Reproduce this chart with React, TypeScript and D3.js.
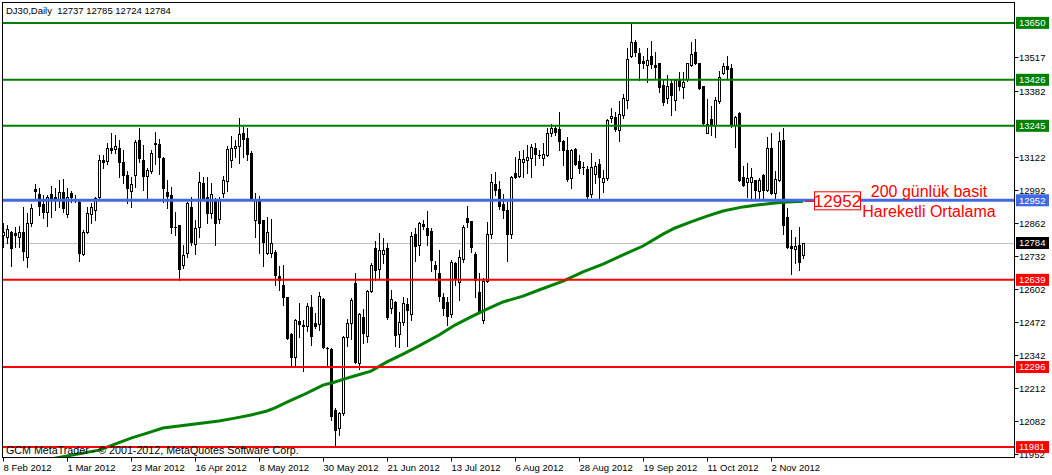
import { useEffect, useRef } from 'react';
import * as d3 from 'd3';

// daily OHLC, one entry per bar (bar 0 = 8 Feb 2012)
const openP = [
  12816, 12809, 12827, 12822, 12809, 12827, 12730, 12864, 12995, 12976,
  12938, 12905, 12976, 12963, 12953, 12984, 12897, 12980, 12957, 12946,
  12741, 12826, 12897, 12914, 12963, 13111, 13107, 13157, 13155, 13159,
  13104, 13052, 12990, 13052, 13190, 13111, 13049, 13069, 13179, 13174,
  13120, 12984, 12973, 12848, 12855, 12697, 12743, 12927, 12779, 12848,
  13019, 12964, 12901, 12956, 12877, 12980, 13029, 13111, 13159, 13166,
  13216, 13196, 13137, 12875, 12953, 12875, 12746, 12743, 12750, 12654,
  12619, 12570, 12426, 12337, 12477, 12461, 12459, 12533, 12468, 12465,
  12564, 12371, 12365, 12127, 12058, 12116, 12415, 12468, 12625, 12310,
  12494, 12419, 12595, 12763, 12680, 12741, 12763, 12527, 12553, 12426,
  12472, 12544, 12505, 12820, 12776, 12860, 12842, 12831, 12698, 12665,
  12570, 12551, 12503, 12704, 12632, 12720, 12881, 12871, 12741, 12590,
  12481, 12636, 12818, 13016, 12997, 12938, 12914, 12820, 13058, 13049,
  13104, 13111, 13117, 13157, 13131, 13117, 13130, 13216, 13238, 13231,
  13186, 13150, 13041, 13153, 13107, 13084, 13075, 12976, 13054, 13094,
  13023, 13039, 13275, 13279, 13229, 13288, 13347, 13518, 13574, 13531,
  13500, 13485, 13521, 13485, 13491, 13406, 13356, 13413, 13347, 13426,
  13399, 13428, 13485, 13537, 13491, 13402, 13218, 13271, 13249, 13344,
  13452, 13481, 13472, 13249, 13297, 13043, 13022, 13022, 13032, 12990,
  13050, 12993, 13157, 12980, 13032, 13189, 12885, 12772, 12759, 12776,
  12737,
];
const highP = [
  12862, 12855, 12831, 12848, 12851, 12925, 12901, 12938, 13016, 12999,
  12973, 12973, 13008, 13002, 13032, 13035, 12999, 12990, 12973, 12951,
  12835, 12927, 12940, 12966, 13130, 13130, 13179, 13216, 13209, 13190,
  13150, 13067, 13045, 13190, 13235, 13170, 13078, 13150, 13220, 13192,
  13124, 13032, 13003, 12907, 12855, 12776, 12947, 12966, 12875, 13065,
  13045, 13045, 13019, 12960, 12966, 13048, 13166, 13203, 13190, 13275,
  13242, 13235, 13144, 12982, 12970, 12875, 12888, 12877, 12756, 12694,
  12697, 12573, 12428, 12484, 12547, 12481, 12547, 12579, 12507, 12591,
  12566, 12376, 12369, 12133, 12120, 12418, 12484, 12566, 12667, 12510,
  12523, 12599, 12704, 12792, 12822, 12802, 12785, 12599, 12557, 12514,
  12573, 12566, 12829, 12842, 12868, 12875, 12908, 12842, 12715, 12757,
  12586, 12573, 12717, 12711, 12757, 12855, 12931, 12871, 12750, 12665,
  12645, 12868, 13054, 13062, 13026, 12976, 12947, 13049, 13124, 13144,
  13150, 13170, 13173, 13176, 13150, 13176, 13235, 13251, 13249, 13298,
  13189, 13200, 13154, 13157, 13130, 13104, 13085, 13137, 13104, 13113,
  13071, 13272, 13314, 13301, 13343, 13369, 13550, 13645, 13583, 13550,
  13518, 13550, 13579, 13537, 13491, 13426, 13443, 13426, 13428, 13458,
  13458, 13494, 13575, 13585, 13494, 13403, 13349, 13321, 13357, 13462,
  13491, 13520, 13489, 13284, 13301, 13087, 13098, 13078, 13032, 13039,
  13056, 13200, 13218, 13069, 13222, 13238, 12923, 12835, 12809, 12848,
  12785,
];
const lowP = [
  12770, 12783, 12695, 12770, 12770, 12717, 12691, 12851, 12953, 12894,
  12881, 12851, 12888, 12914, 12927, 12907, 12888, 12947, 12947, 12714,
  12737, 12822, 12862, 12875, 12953, 13078, 13095, 13137, 13137, 13045,
  13019, 12940, 12925, 13006, 13104, 12993, 12960, 13058, 13095, 13056,
  12947, 12921, 12822, 12816, 12638, 12684, 12730, 12776, 12741, 12809,
  12953, 12864, 12881, 12776, 12864, 12963, 12990, 13081, 13124, 13100,
  13124, 13111, 12953, 12809, 12746, 12695, 12741, 12730, 12619, 12599,
  12540, 12405, 12304, 12304, 12415, 12282, 12439, 12383, 12448, 12442,
  12369, 12304, 12087, 11982, 12028, 12107, 12380, 12405, 12310, 12287,
  12389, 12396, 12592, 12638, 12645, 12704, 12484, 12507, 12379, 12376,
  12461, 12380, 12481, 12715, 12737, 12838, 12776, 12675, 12639, 12556,
  12501, 12461, 12494, 12619, 12560, 12711, 12848, 12747, 12573, 12511,
  12468, 12632, 12805, 12973, 12918, 12881, 12715, 12805, 13039, 13045,
  13045, 13058, 13043, 13091, 13117, 13091, 13127, 13203, 13209, 13150,
  13091, 13029, 13002, 13091, 13058, 13056, 12960, 12963, 13019, 12960,
  12986, 13032, 13259, 13226, 13187, 13275, 13317, 13515, 13518, 13426,
  13472, 13416, 13472, 13432, 13377, 13325, 13334, 13288, 13308, 13386,
  13353, 13423, 13481, 13489, 13390, 13252, 13216, 13209, 13200, 13334,
  13449, 13428, 13242, 13163, 13029, 13008, 12964, 12953, 12956, 12953,
  12960, 12990, 12977, 12960, 13029, 12819, 12763, 12662, 12704, 12678,
  12724,
];
const closeP = [
  12829, 12838, 12763, 12817, 12829, 12754, 12862, 12921, 12990, 12931,
  12907, 12965, 12953, 12953, 12986, 12921, 12963, 12964, 12953, 12743,
  12829, 12901, 12925, 12961, 13111, 13102, 13157, 13150, 13166, 13104,
  13052, 12999, 13015, 13183, 13117, 13049, 13071, 13140, 13172, 13124,
  12999, 12970, 12848, 12846, 12680, 12737, 12940, 12789, 12842, 13023,
  12960, 12901, 12976, 12861, 12956, 13032, 13153, 13157, 13166, 13212,
  13192, 13133, 12956, 12953, 12861, 12787, 12829, 12783, 12658, 12638,
  12570, 12409, 12334, 12481, 12465, 12459, 12536, 12419, 12459, 12575,
  12376, 12369, 12103, 12048, 12116, 12413, 12468, 12560, 12317, 12505,
  12428, 12595, 12697, 12678, 12756, 12756, 12494, 12564, 12422, 12474,
  12549, 12520, 12812, 12774, 12862, 12852, 12816, 12717, 12681, 12577,
  12527, 12498, 12711, 12642, 12728, 12847, 12868, 12767, 12639, 12517,
  12636, 12820, 13023, 12993, 12931, 12914, 12820, 13043, 13045, 13115,
  13115, 13124, 13163, 13133, 13131, 13134, 13216, 13235, 13222, 13187,
  13148, 13035, 13148, 13095, 13078, 13082, 12970, 13082, 13085, 13042,
  13039, 13266, 13285, 13231, 13291, 13353, 13508, 13574, 13535, 13491,
  13491, 13502, 13487, 13478, 13399, 13340, 13403, 13367, 13426, 13403,
  13419, 13491, 13528, 13494, 13393, 13258, 13252, 13252, 13347, 13436,
  13481, 13468, 13249, 13279, 13032, 13012, 13039, 13045, 12993, 13032,
  12993, 13157, 12980, 13035, 13187, 12855, 12767, 12766, 12772, 12708,
  12784,
];

// 200-day simple moving average at these bars
const maBar = [
  12, 16, 24, 28, 32, 36, 40, 44, 50, 54, 58, 62, 66, 68, 71, 75, 78, 80, 83, 87,
  92, 96, 100, 104, 109, 113, 117, 121, 125, 130, 134, 140, 145, 150, 155, 160,
  165, 168, 172, 176, 180, 185, 189, 193, 196, 200,
];
const maValue = [
  11934, 11946, 11969, 11993, 12016, 12036, 12056, 12064, 12076, 12084, 12095,
  12107, 12123, 12135, 12158, 12186, 12209, 12225, 12237, 12257, 12280, 12316,
  12347, 12379, 12422, 12461, 12493, 12524, 12552, 12575, 12599, 12634, 12670,
  12701, 12737, 12772, 12819, 12843, 12867, 12890, 12910, 12926, 12934, 12941,
  12945, 12948,
];

const dateLabels = [
  '8 Feb 2012', '1 Mar 2012', '23 Mar 2012', '16 Apr 2012', '8 May 2012',
  '30 May 2012', '21 Jun 2012', '13 Jul 2012', '6 Aug 2012', '28 Aug 2012',
  '19 Sep 2012', '11 Oct 2012', '2 Nov 2012',
];
const dateStep = 16;

const axisTicks = [13517, 13382, 13122, 12992, 12862, 12732, 12602, 12472, 12342, 12212, 12082, 11952];
const greenLevels = [13650, 13426, 13245];
const redLevels = [12639, 12296, 11981];
const blueLevel = 12952;
const lastPrice = 12784;
const title = 'DJ30,Daily  12737 12785 12724 12784';
const copyright = 'GCM MetaTrader - © 2001-2012, MetaQuotes Software Corp.';
const noteValue = '12952';
const noteLines = ['200 günlük basit', 'Hareketli Ortalama'];

const W = 1052;
const H = 475;
const FONT = '"Liberation Sans", Arial, sans-serif';

export default function App() {
  const svgRef = useRef<SVGSVGElement>(null);

  useEffect(() => {
    if (!svgRef.current) return;
    const svg = d3.select(svgRef.current);
    svg.selectAll('*').remove();

    const left = 2.5, top = 2.5, right = 1014.5, bottom = 457.5;

    const x = d3.scaleLinear().domain([0, 200]).range([3, 803]);
    const y = d3.scaleLinear().domain([11942, 13740]).range([457, 0]);
    const py = (v: number) => Math.round(y(v)) + 0.5;

    svg.append('rect').attr('width', W).attr('height', H).attr('fill', '#fff');

    svg.append('defs').append('clipPath').attr('id', 'plot')
      .append('rect').attr('x', left).attr('y', top)
      .attr('width', right - left).attr('height', bottom - top);

    const plot = svg.append('g').attr('clip-path', 'url(#plot)');

    // current price line
    plot.append('line')
      .attr('x1', left).attr('x2', right)
      .attr('y1', py(lastPrice)).attr('y2', py(lastPrice))
      .attr('stroke', '#c0c0c0').attr('stroke-width', 1);

    // candles
    const bars = plot.append('g');
    openP.forEach((o, i) => {
      const c = closeP[i];
      const px = Math.round(x(i));
      bars.append('line')
        .attr('x1', px + 0.5).attr('x2', px + 0.5)
        .attr('y1', Math.round(y(highP[i]))).attr('y2', Math.round(y(lowP[i])) + 1)
        .attr('stroke', '#000').attr('stroke-width', 1);
      const yt = Math.round(y(Math.max(o, c)));
      const yb = Math.round(y(Math.min(o, c)));
      if (c < o || yb - yt < 2) {
        bars.append('rect')
          .attr('x', px - 1).attr('y', yt)
          .attr('width', 3).attr('height', Math.max(1, yb - yt + 1))
          .attr('fill', '#000');
      } else {
        bars.append('rect')
          .attr('x', px - 0.5).attr('y', yt + 0.5)
          .attr('width', 2).attr('height', yb - yt)
          .attr('fill', '#fff').attr('stroke', '#000').attr('stroke-width', 1);
      }
    });

    // moving average
    const ma = d3.line<number>()
      .x((_, k) => x(maBar[k]))
      .y(d => y(d));
    plot.append('path')
      .datum(maValue)
      .attr('d', ma)
      .attr('fill', 'none')
      .attr('stroke', '#008000')
      .attr('stroke-width', 3);

    // horizontal levels
    greenLevels.forEach(v => {
      plot.append('line').attr('x1', left).attr('x2', right)
        .attr('y1', y(v)).attr('y2', y(v))
        .attr('stroke', '#008000').attr('stroke-width', 2);
    });
    redLevels.forEach(v => {
      plot.append('line').attr('x1', left).attr('x2', right)
        .attr('y1', y(v)).attr('y2', y(v))
        .attr('stroke', '#ff0000').attr('stroke-width', 2);
    });
    plot.append('line').attr('x1', left).attr('x2', right)
      .attr('y1', y(blueLevel)).attr('y2', y(blueLevel))
      .attr('stroke', '#4169e1').attr('stroke-width', 3);

    // annotation
    const noteY = y(maValue[maValue.length - 1]);
    plot.append('line')
      .attr('x1', x(200) + 2).attr('x2', 814)
      .attr('y1', noteY).attr('y2', noteY)
      .attr('stroke', '#ff0000').attr('stroke-width', 1);
    plot.append('rect')
      .attr('x', 814.5).attr('y', noteY - 9.5)
      .attr('width', 46).attr('height', 18)
      .attr('fill', '#fff').attr('stroke', '#ff0000').attr('stroke-width', 1);
    plot.append('text')
      .attr('x', 837.5).attr('y', noteY + 6)
      .attr('text-anchor', 'middle')
      .style('font-family', FONT).style('font-size', '17px')
      .attr('fill', '#ff0000')
      .text(noteValue);
    noteLines.forEach((t, k) => {
      plot.append('text')
        .attr('x', 929).attr('y', 197 + k * 20)
        .attr('text-anchor', 'middle')
        .style('font-family', FONT).style('font-size', '16px')
        .attr('fill', '#ff0000')
        .text(t);
    });

    // frame
    svg.append('rect')
      .attr('x', left).attr('y', top)
      .attr('width', right - left).attr('height', bottom - top)
      .attr('fill', 'none').attr('stroke', '#000').attr('stroke-width', 1);

    // right price axis
    const axis = svg.append('g').style('font-family', FONT).style('font-size', '9.5px');
    axisTicks.forEach(v => {
      const yy = py(v);
      axis.append('line').attr('x1', right).attr('x2', right + 4)
        .attr('y1', yy).attr('y2', yy).attr('stroke', '#000');
      axis.append('text').attr('x', 1019).attr('y', yy).attr('dy', '0.35em')
        .attr('fill', '#000').text(v);
    });
    const boxed: [number, string][] = [
      ...greenLevels.map(v => [v, '#008000'] as [number, string]),
      [blueLevel, '#4169e1'],
      [lastPrice, '#000000'],
      ...redLevels.map(v => [v, '#ff0000'] as [number, string]),
    ];
    boxed.forEach(([v, col]) => {
      const yy = y(v);
      axis.append('rect').attr('x', 1016).attr('y', yy - 6)
        .attr('width', 33).attr('height', 12).attr('fill', col);
      axis.append('text').attr('x', 1019).attr('y', yy).attr('dy', '0.35em')
        .attr('fill', '#fff').text(v);
    });

    // bottom time axis
    const tAxis = svg.append('g').style('font-family', FONT).style('font-size', '9.5px');
    dateLabels.forEach((lab, k) => {
      const xx = Math.round(x(k * dateStep)) + 0.5;
      tAxis.append('line').attr('x1', xx).attr('x2', xx)
        .attr('y1', bottom).attr('y2', bottom + 4).attr('stroke', '#000');
      tAxis.append('text').attr('x', xx).attr('y', 471)
        .attr('fill', '#000').text(lab);
    });

    // title and copyright
    svg.append('text').attr('x', 6).attr('y', 14)
      .style('font-family', FONT).style('font-size', '9.5px')
      .attr('fill', '#000').style('white-space', 'pre')
      .text(title);
    svg.append('text').attr('x', 6).attr('y', 454)
      .style('font-family', FONT).style('font-size', '10.7px')
      .attr('fill', '#000')
      .text(copyright);
  }, []);

  return (
    <svg ref={svgRef} width={W} height={H}
      style={{ position: 'absolute', left: 0, top: 0, display: 'block' }} />
  );
}
